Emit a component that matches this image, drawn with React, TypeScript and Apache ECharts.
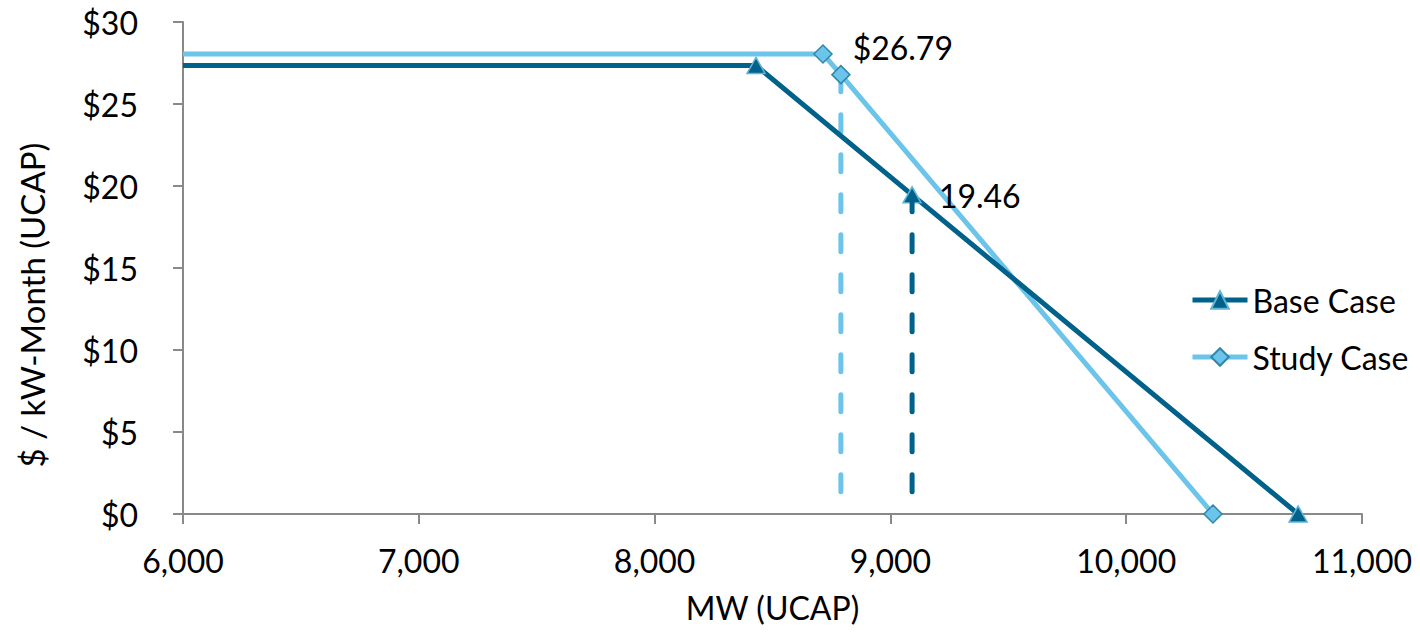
import React, { useEffect, useRef } from "react";
import * as echarts from "echarts";

// Demand curve points (MW, $/kW-Month)
const baseMW = [6000, 8430, 9092, 10729];
const basePrice = [27.35, 27.35, 19.46, 0];
const studyMW = [6000, 8714, 8790, 10368];
const studyPrice = [28.05, 28.05, 26.79, 0];

// Clearing markers: vertical dashed drops
const baseDrop = { mw: 9092, from: 19.46, to: 1.04 };
const studyDrop = { mw: 8790, from: 26.79, to: 1.04 };

const xTicks = { min: 6000, max: 11000, step: 1000 };
const yTicks = { min: 0, max: 30, step: 5 };

const DARK = "#00618b";
const LIGHT = "#6cc4ea";
const FONT = "Lato, 'Open Sans', sans-serif";
const FS = 32;

export default function App() {
  const ref = useRef<HTMLDivElement>(null);

  useEffect(() => {
    if (!ref.current) return;
    document.body.style.margin = "0";
    const chart = echarts.init(ref.current, undefined, { renderer: "svg" });

    const baseData = baseMW.map((x, i) => {
      const item: any = { value: [x, basePrice[i]] };
      if (i === 0) item.symbol = "none";
      if (x === baseDrop.mw) {
        item.label = {
          show: true,
          position: "right",
          offset: [12, 1],
          formatter: () => basePrice[i].toFixed(2),
        };
      }
      return item;
    });
    const studyData = studyMW.map((x, i) => {
      const item: any = { value: [x, studyPrice[i]] };
      if (i === 0) item.symbol = "none";
      if (x === studyDrop.mw) {
        item.label = {
          show: true,
          position: "right",
          offset: [-3, -27],
          formatter: () => "$" + studyPrice[i].toFixed(2),
        };
      }
      return item;
    });

    const labelStyle = { fontFamily: FONT, fontSize: FS, color: "#000" };
    const dash = { width: 5, type: [17, 23], cap: "round" };

    chart.setOption({
      animation: false,
      textStyle: { fontFamily: FONT },
      grid: { left: 183, right: 58, top: 22, bottom: 118, containLabel: false },
      graphic: [
        {
          type: "text",
          x: 32,
          y: 305,
          rotation: Math.PI / 2,
          style: {
            text: "$ / kW-Month (UCAP)",
            font: `${FS + 1}px ${FONT}`,
            fill: "#000",
            align: "center",
            verticalAlign: "middle",
          },
        },
      ],
      legend: {
        orient: "vertical",
        left: 1190,
        top: 284,
        padding: 0,
        itemGap: 25,
        itemWidth: 55,
        itemHeight: 22,
        lineStyle: { width: 5 },
        textStyle: { ...labelStyle },
        data: ["Base Case", "Study Case"],
      },
      xAxis: {
        type: "value",
        min: xTicks.min,
        max: xTicks.max,
        interval: xTicks.step,
        name: "MW (UCAP)",
        nameLocation: "middle",
        nameGap: 77,
        nameTextStyle: labelStyle,
        axisLine: { show: true, lineStyle: { color: "#898989", width: 2 } },
        axisTick: { show: true, length: 10, lineStyle: { color: "#898989", width: 2 } },
        axisLabel: {
          ...labelStyle,
          margin: 30,
          formatter: (v: number) => v.toLocaleString("en-US"),
        },
        splitLine: { show: false },
      },
      yAxis: {
        type: "value",
        min: yTicks.min,
        max: yTicks.max,
        interval: yTicks.step,
        axisLine: { show: true, lineStyle: { color: "#898989", width: 2 } },
        axisTick: { show: true, length: 10, lineStyle: { color: "#898989", width: 2 } },
        axisLabel: { ...labelStyle, margin: 45, formatter: (v: number) => "$" + v },
        splitLine: { show: false },
      },
      series: [
        {
          name: "Study Drop",
          type: "line",
          data: [
            [studyDrop.mw, studyDrop.from],
            [studyDrop.mw, studyDrop.to],
          ],
          symbol: "none",
          lineStyle: { color: LIGHT, ...dash },
          z: 1,
        },
        {
          name: "Base Drop",
          type: "line",
          data: [
            [baseDrop.mw, baseDrop.from],
            [baseDrop.mw, baseDrop.to],
          ],
          symbol: "none",
          lineStyle: { color: DARK, ...dash },
          z: 4,
        },
        {
          name: "Base Case",
          type: "line",
          data: baseData,
          symbol: "triangle",
          symbolSize: [18, 16],
          color: DARK,
          lineStyle: { color: DARK, width: 5 },
          itemStyle: { color: DARK, borderColor: "#5fb4d6", borderWidth: 1.5 },
          label: labelStyle,
          z: 3,
        },
        {
          name: "Study Case",
          type: "line",
          data: studyData,
          symbol: "diamond",
          symbolSize: [18, 18],
          color: LIGHT,
          lineStyle: { color: LIGHT, width: 5 },
          itemStyle: { color: LIGHT, borderColor: "#2f88a6", borderWidth: 1.5 },
          label: labelStyle,
          z: 2,
        },
      ],
    });

    return () => chart.dispose();
  }, []);

  return <div ref={ref} style={{ width: 1420, height: 632 }} />;
}
